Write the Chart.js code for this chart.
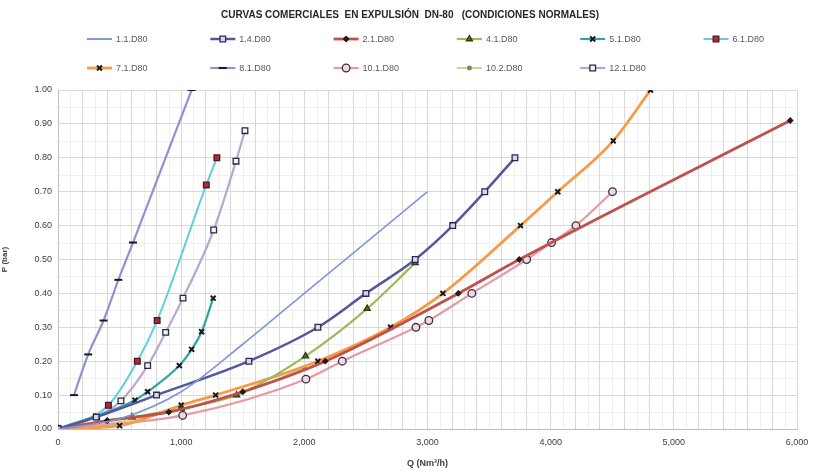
<!DOCTYPE html>
<html>
<head>
<meta charset="utf-8">
<script src="https://cdn.jsdelivr.net/npm/chart.js@4/dist/chart.umd.min.js"></script>
<style>
  html, body { margin: 0; padding: 0; background: #ffffff; }
  #wrap { width: 820px; height: 473px; position: relative; }
</style>
</head>
<body>
<div id="wrap"><canvas id="c" width="820" height="473"></canvas></div>
<script>
// Commercial curves, DN-80 discharge, normal conditions.
// Q in Nm³/h, P in bar.
const chartTitle = 'CURVAS COMERCIALES  EN EXPULSIÓN  DN-80   (CONDICIONES NORMALES)';
const xTickLabels = ['0', '1,000', '2,000', '3,000', '4,000', '5,000', '6,000'];
const yTickLabels = ['0.00', '0.10', '0.20', '0.30', '0.40', '0.50', '0.60', '0.70', '0.80', '0.90', '1.00'];

const names = ['1.1.D80', '1.4.D80', '2.1.D80', '4.1.D80', '5.1.D80', '6.1.D80',
               '7.1.D80', '8.1.D80', '10.1.D80', '10.2.D80', '12.1.D80'];

const q11 = [0, 500, 1000, 1500, 2000, 2500, 3000];
const p11 = [0, 0.03, 0.11, 0.25, 0.40, 0.55, 0.70];

const q14 = [0, 310, 800, 1550, 2110, 2500, 2900, 3205, 3465, 3710];
const p14 = [0, 0.035, 0.10, 0.20, 0.30, 0.40, 0.50, 0.60, 0.70, 0.80];

const q21 = [0, 400, 900, 1500, 2170, 3250, 3745, 5945];
const p21 = [0, 0.025, 0.05, 0.11, 0.20, 0.40, 0.50, 0.91];

const q41 = [0, 600, 1000, 1450, 2010, 2510, 2900];
const p41 = [0, 0.035, 0.06, 0.10, 0.215, 0.355, 0.49];

const q51 = [0, 625, 728, 985, 1085, 1166, 1260];
const p51 = [0, 0.085, 0.11, 0.187, 0.235, 0.287, 0.386];

const q61 = [0, 409, 644, 805, 1204, 1290];
const p61 = [0, 0.07, 0.20, 0.32, 0.72, 0.80];

const q71 = [0, 500, 1000, 1280, 2110, 2700, 3125, 3755, 4058, 4508, 4811];
const p71 = [0, 0.01, 0.07, 0.10, 0.20, 0.30, 0.40, 0.60, 0.70, 0.85, 1.00];

const q81 = [130, 245, 370, 490, 609, 1085];
const p81 = [0.10, 0.22, 0.32, 0.44, 0.55, 1.00];

const q101 = [0, 1012, 2013, 2308, 2906, 3011, 3360, 3805, 4007, 4205, 4502];
const p101 = [0, 0.04, 0.147, 0.20, 0.30, 0.32, 0.40, 0.50, 0.55, 0.60, 0.70];

const q102 = [0, 400, 900, 1450, 2000];
const p102 = [0, 0.015, 0.05, 0.10, 0.18];

const q121 = [0, 314, 511, 728, 874, 1015, 1264, 1445, 1518];
const p121 = [0, 0.036, 0.083, 0.187, 0.285, 0.386, 0.587, 0.79, 0.88];

const seriesQ = [q11, q14, q21, q41, q51, q61, q71, q81, q101, q102, q121];
const seriesP = [p11, p14, p21, p41, p51, p61, p71, p81, p101, p102, p121];

// line + marker styling per series
const styles = [
  { line: '#7f97d5', width: 1.6, pt: false, r: 0 },
  { line: '#55569e', width: 2.5, pt: 'rect', r: 4, fill: '#d7d7e6', edge: '#2a2a55' },
  { line: '#c0504d', width: 2.8, pt: 'rectRot', r: 2.5, fill: '#3a1a1a', edge: '#1a1a1a' },
  { line: '#9bbb59', width: 2.2, pt: 'triangle', r: 3.5, fill: '#5a6e2a', edge: '#2e3a12' },
  { line: '#2fa3a6', width: 2.2, pt: 'crossRot', r: 3.5, fill: '#1a1a1a', edge: '#1a1a1a' },
  { line: '#5fcfdc', width: 2.0, pt: 'rect', r: 4, fill: '#b0283a', edge: '#4a1a22' },
  { line: '#f79a45', width: 2.8, pt: 'crossRot', r: 3.5, fill: '#1a1a1a', edge: '#1a1a1a' },
  { line: '#8c93cf', width: 2.2, pt: 'line', r: 4, fill: '#1a1a1a', edge: '#1a1a1a' },
  { line: '#e69aa6', width: 2.2, pt: 'circle', r: 3.8, fill: '#e8dce6', edge: '#4a2a3a' },
  { line: '#c4d79b', width: 2.0, pt: 'circle', r: 1.8, fill: '#7a8a4a', edge: '#7a8a4a' },
  { line: '#b9a6d3', width: 2.2, pt: 'rect', r: 4, fill: '#f4f4f8', edge: '#2a2a3a' }
];

const datasets = names.map((name, i) => {
  const s = styles[i];
  return {
    label: name,
    data: seriesQ[i].map((q, k) => ({ x: q, y: seriesP[i][k] })),
    borderColor: s.line,
    backgroundColor: s.line,
    borderWidth: s.width,
    pointStyle: s.pt,
    pointRadius: s.r,
    pointBackgroundColor: s.fill || s.line,
    pointBorderColor: s.edge || s.line,
    pointBorderWidth: s.pt === 'crossRot' || s.pt === 'line' ? 2 : 1.3,
    cubicInterpolationMode: 'monotone',
    tension: 0.4,
    fill: false
  };
});

// faint minor grid under the main grid
const minorGrid = {
  id: 'minorGrid',
  beforeDraw(chart) {
    const { ctx, chartArea: a, scales: { x, y } } = chart;
    ctx.save();
    ctx.strokeStyle = '#efefef';
    ctx.lineWidth = 1;
    for (let v = 100; v < 6000; v += 200) {
      const px = Math.round(x.getPixelForValue(v)) + 0.5;
      ctx.beginPath(); ctx.moveTo(px, a.top); ctx.lineTo(px, a.bottom); ctx.stroke();
    }
    for (let v = 0.05; v < 1; v += 0.1) {
      const py = Math.round(y.getPixelForValue(v)) + 0.5;
      ctx.beginPath(); ctx.moveTo(a.left, py); ctx.lineTo(a.right, py); ctx.stroke();
    }
    ctx.restore();
  }
};

// title and two-row legend laid out on a fixed column grid
const header = {
  id: 'header',
  afterDraw(chart) {
    const ctx = chart.ctx;
    ctx.save();
    ctx.fillStyle = '#262626';
    ctx.font = 'bold 10px "Liberation Sans", Arial, sans-serif';
    ctx.textAlign = 'center';
    ctx.textBaseline = 'middle';
    ctx.fillText(chartTitle, 410, 15);

    ctx.font = '9px "Liberation Sans", Arial, sans-serif';
    ctx.textAlign = 'left';
    chart.data.datasets.forEach((ds, i) => {
      const col = i % 6, row = Math.floor(i / 6);
      const x0 = 87 + col * 123.3, yy = 39 + row * 29;
      ctx.strokeStyle = ds.borderColor;
      ctx.lineWidth = Math.max(ds.borderWidth, 2);
      ctx.beginPath(); ctx.moveTo(x0, yy); ctx.lineTo(x0 + 25, yy); ctx.stroke();
      if (ds.pointStyle) {
        ctx.fillStyle = ds.pointBackgroundColor;
        ctx.strokeStyle = ds.pointBorderColor;
        ctx.lineWidth = ds.pointBorderWidth;
        Chart.helpers.drawPoint(ctx, {
          pointStyle: ds.pointStyle, radius: ds.pointRadius,
          borderWidth: ds.pointBorderWidth, rotation: 0
        }, x0 + 12.5, yy);
      }
      ctx.fillStyle = '#595959';
      ctx.fillText(ds.label, x0 + 29, yy + 0.5);
    });
    ctx.restore();
  }
};

new Chart(document.getElementById('c'), {
  type: 'line',
  data: { datasets },
  plugins: [minorGrid, header],
  options: {
    responsive: false,
    animation: false,
    parsing: true,
    layout: { padding: { top: 90, right: 23, left: 0, bottom: 0 } },
    plugins: { legend: { display: false }, title: { display: false }, tooltip: { enabled: false } },
    scales: {
      x: {
        type: 'linear', min: 0, max: 6000,
        afterFit(s) { s.height = 44; },
        ticks: {
          stepSize: 200, autoSkip: false, maxRotation: 0, padding: 8,
          color: '#404040', font: { size: 9, family: '"Liberation Sans", Arial, sans-serif' },
          callback: v => (v % 1000 === 0 ? xTickLabels[v / 1000] : '')
        },
        grid: { color: '#d9d9d9', drawTicks: false },
        border: { color: '#bfbfbf' },
        title: {
          display: true, text: 'Q (Nm³/h)', color: '#404040', padding: { top: 2 },
          font: { size: 9, weight: 'bold', family: '"Liberation Sans", Arial, sans-serif' }
        }
      },
      y: {
        type: 'linear', min: 0, max: 1,
        afterFit(s) { s.width = 58; },
        ticks: {
          stepSize: 0.1, padding: 6,
          color: '#404040', font: { size: 9, family: '"Liberation Sans", Arial, sans-serif' },
          callback: v => yTickLabels[Math.round(v * 10)]
        },
        grid: { color: '#d9d9d9', drawTicks: false },
        border: { color: '#bfbfbf' },
        title: {
          display: true, text: 'P (bar)', color: '#404040', padding: 0,
          font: { size: 8, weight: 'bold', family: '"Liberation Sans", Arial, sans-serif' }
        }
      }
    }
  }
});
</script>
</body>
</html>
